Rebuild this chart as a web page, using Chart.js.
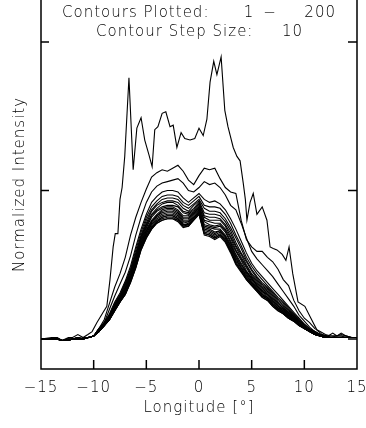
<!DOCTYPE html>
<html>
<head>
<meta charset="utf-8">
<script src="https://cdn.jsdelivr.net/npm/chart.js@4/dist/chart.umd.min.js"></script>
<style>
  html, body { margin: 0; padding: 0; background: #fff; }
  #wrap { width: 366px; height: 428px; }
</style>
</head>
<body>
<div id="wrap"><canvas id="profile-chart" width="366" height="428"></canvas></div>
<script>
// Longitude grid (deg) for contour profiles
const lon = [-15, -14.5, -14, -13.5, -13, -12.5, -12, -11.5, -11, -10.5,
    -10, -9.5, -9, -8.5, -8, -7.5, -7, -6.5, -6, -5.5,
    -5, -4.5, -4, -3.5, -3, -2.5, -2, -1.5, -1, -0.5,
    0, 0.5, 1, 1.5, 2, 2.5, 3, 3.5, 4, 4.5,
    5, 5.5, 6, 6.5, 7, 7.5, 8, 8.5, 9, 9.5,
    10, 10.5, 11, 11.5, 12, 12.5, 13, 13.5, 14, 14.5, 15];

// Contour 1 (read at its own sample points)
const topLon = [-15, -14, -13.5, -13, -12.4, -12, -11.5, -11, -10.55, -10.15,
    -9.7, -9.1, -8.75, -8.45, -8.15, -7.95, -7.7, -7.5, -7.3, -7.05,
    -6.65, -6.25, -5.9, -5.5, -5.15, -4.75, -4.45, -4.2, -3.9, -3.5,
    -3.15, -2.75, -2.45, -2.1, -1.7, -1.35, -0.85, -0.4, 0, 0.4,
    0.75, 1.05, 1.4, 1.7, 2.1, 2.45, 2.75, 3.25, 3.6, 3.9,
    4.2, 4.4, 4.55, 4.85, 5.15, 5.5, 6.0, 6.45, 6.75, 7.05,
    7.4, 7.9, 8.25, 8.55, 8.9, 9.4, 10.05, 10.55, 11.2, 11.7,
    12.25, 12.7, 13.1, 13.5, 13.95, 14.45, 15];
const contour1 = [0, 1, 1, -1, 1, 1, 3, 1, 3, 5,
    11, 18, 22, 40, 62, 71, 71, 94, 102, 123,
    176, 114, 142, 149, 134, 124, 116, 141, 143, 152,
    153, 143, 144, 129, 139, 135, 134, 135, 142, 137,
    148, 173, 187, 178, 190, 154, 143, 129, 123, 120,
    105, 94, 80, 92, 98, 84, 89, 80, 62, 61,
    60, 57, 53, 62, 44, 25, 22, 15, 6, 3,
    2, 4, 2, 4, 2, 1, 1];

// Contours 11 ... 191 on the common grid
const contour11 = [0, 0, 0, 0, -1, 0, 0, 1, 0, 1,
    2, 7, 13, 24, 35, 44, 55, 70, 82, 92,
    101, 109, 112, 114, 113, 115, 117, 113, 107, 104,
    110, 115, 114, 115, 108, 102, 99, 98, 80, 67,
    62, 59, 59, 55, 52, 47, 40, 36, 26, 19,
    14, 11, 7, 5, 3, 2, 2, 3, 2, 1, 1];
const contour21 = [0, 0, 0, 1, -1, 0, 0, 1, 0, 1,
    2, 6, 11, 20, 29, 37, 45, 56, 70, 82,
    92, 99, 103, 105, 106, 107, 108, 105, 100, 99,
    102, 106, 104, 105, 102, 97, 90, 87, 78, 68,
    59, 54, 50, 46, 42, 37, 32, 27, 22, 16,
    12, 8, 5, 3, 2, 2, 2, 2, 1, 1, 1];
const contour31 = [0, 0, 0, 0, -1, 0, 0, 1, 0, 1,
    2, 7, 11, 17, 25, 31, 39, 49, 62, 74,
    84, 92, 96, 99, 100, 100, 99, 95, 92, 95,
    98, 94, 92, 93, 91, 87, 81, 74, 66, 58,
    51, 46, 42, 38, 34, 30, 26, 22, 18, 14,
    10, 7, 5, 3, 2, 1, 2, 2, 2, 1, 1];
const contour41 = [0, 0, 0, 1, -1, 0, 0, 1, 0, 1,
    2, 7, 11, 16, 24, 30, 38, 47, 60, 72,
    82, 89, 93, 96, 97, 97, 96, 92, 90, 93,
    96, 90, 89, 89, 88, 84, 78, 70, 63, 55,
    49, 44, 40, 36, 32, 28, 25, 21, 17, 13,
    10, 7, 5, 3, 2, 1, 1, 1, 1, 1, 1];
const contour51 = [0, 0, 0, 0, -1, -1, 0, 0, 0, 1,
    2, 7, 10, 16, 23, 29, 37, 46, 58, 70,
    80, 87, 91, 94, 95, 95, 94, 90, 88, 91,
    94, 88, 86, 86, 85, 81, 75, 68, 61, 53,
    47, 42, 38, 35, 31, 27, 24, 20, 16, 13,
    9, 6, 4, 3, 2, 1, 1, 1, 1, 1, 1];
const contour61 = [0, 0, 0, 0, -1, -1, 0, 1, 0, 1,
    2, 6, 10, 16, 23, 29, 36, 45, 57, 69,
    78, 86, 90, 92, 93, 93, 92, 88, 86, 90,
    93, 85, 84, 84, 83, 79, 73, 65, 58, 52,
    46, 41, 37, 34, 30, 26, 23, 19, 16, 12,
    9, 6, 4, 3, 2, 1, 1, 1, 1, 1, 1];
const contour71 = [0, 0, 0, 0, -1, -1, 0, 0, 0, 1,
    2, 6, 10, 15, 22, 28, 35, 44, 56, 68,
    77, 84, 88, 91, 92, 92, 90, 86, 85, 88,
    92, 83, 82, 82, 81, 77, 71, 63, 57, 50,
    44, 40, 36, 33, 29, 25, 22, 18, 15, 12,
    9, 6, 4, 3, 2, 1, 1, 1, 1, 1, 1];
const contour81 = [0, 0, 0, 0, -1, -1, 0, 0, 1, 1,
    2, 6, 10, 15, 22, 28, 34, 43, 55, 67,
    76, 83, 87, 89, 90, 90, 89, 85, 84, 87,
    91, 82, 80, 80, 80, 76, 69, 62, 55, 49,
    43, 39, 35, 32, 28, 24, 21, 18, 15, 11,
    8, 6, 4, 2, 1, 1, 1, 1, 1, 1, 1];
const contour91 = [0, 0, 0, 0, -1, -1, 0, 0, 0, 1,
    2, 6, 10, 15, 22, 28, 34, 43, 54, 66,
    75, 82, 86, 88, 89, 89, 87, 83, 83, 86,
    90, 80, 79, 78, 78, 74, 68, 60, 54, 48,
    42, 38, 34, 31, 27, 24, 21, 17, 15, 11,
    8, 6, 4, 2, 1, 1, 1, 1, 1, 1, 1];
const contour101 = [0, 0, 0, 0, -1, -1, 0, 0, 0, 1,
    2, 6, 10, 14, 21, 27, 33, 42, 53, 65,
    74, 80, 84, 87, 88, 88, 86, 82, 82, 85,
    89, 79, 77, 76, 77, 73, 66, 59, 53, 46,
    41, 37, 33, 30, 26, 23, 20, 17, 14, 11,
    8, 6, 4, 2, 1, 1, 1, 1, 1, 1, 1];
const contour111 = [0, 0, 0, 0, -1, -1, 0, 0, 0, 1,
    2, 6, 10, 14, 21, 27, 33, 41, 52, 64,
    73, 79, 83, 86, 87, 87, 85, 81, 81, 85,
    88, 77, 76, 75, 76, 72, 65, 57, 51, 45,
    41, 36, 32, 30, 26, 22, 20, 16, 14, 10,
    8, 6, 4, 2, 1, 1, 1, 1, 1, 1, 1];
const contour121 = [0, 0, 0, 0, -1, -1, 0, 0, 0, 1,
    2, 5, 9, 14, 21, 27, 32, 41, 52, 64,
    72, 79, 83, 85, 86, 86, 84, 80, 80, 84,
    88, 76, 75, 74, 74, 70, 64, 56, 50, 45,
    40, 36, 32, 29, 25, 22, 19, 16, 14, 10,
    8, 5, 3, 2, 1, 1, 1, 1, 1, 1, 1];
const contour131 = [0, 0, 0, 0, -1, -1, 0, 0, 0, 1,
    2, 5, 9, 14, 20, 26, 32, 40, 51, 63,
    71, 78, 82, 84, 85, 85, 83, 79, 79, 83,
    87, 75, 74, 72, 73, 69, 63, 55, 49, 44,
    39, 35, 31, 28, 24, 21, 19, 16, 13, 10,
    8, 5, 3, 2, 1, 1, 1, 1, 1, 1, 1];
const contour141 = [0, 0, 0, 0, -1, -1, 0, 0, 0, 1,
    2, 5, 9, 14, 20, 26, 31, 40, 50, 62,
    71, 77, 81, 83, 84, 84, 82, 78, 79, 82,
    86, 74, 73, 71, 73, 69, 62, 54, 48, 43,
    38, 34, 30, 28, 24, 21, 18, 15, 13, 10,
    7, 5, 3, 2, 1, 1, 1, 1, 1, 1, 1];
const contour151 = [0, 0, 0, 0, -1, -1, 0, 0, 0, 1,
    2, 5, 9, 13, 20, 26, 31, 39, 50, 62,
    70, 76, 80, 82, 83, 83, 81, 77, 78, 82,
    86, 73, 72, 70, 72, 68, 61, 53, 48, 42,
    38, 34, 30, 27, 23, 20, 18, 15, 13, 10,
    7, 5, 3, 2, 1, 1, 1, 1, 1, 1, 1];
const contour161 = [0, 0, 0, 0, -1, -1, 0, 0, 0, 1,
    2, 5, 9, 13, 19, 25, 31, 39, 49, 61,
    69, 75, 79, 82, 83, 83, 81, 77, 77, 81,
    85, 72, 71, 69, 71, 67, 60, 52, 47, 41,
    37, 33, 29, 27, 23, 20, 18, 15, 12, 9,
    7, 5, 3, 2, 1, 1, 1, 1, 1, 1, 1];
const contour171 = [0, 0, 0, 0, -1, -1, 0, 0, 0, 1,
    2, 5, 9, 13, 19, 25, 30, 39, 49, 61,
    69, 75, 79, 81, 82, 82, 80, 76, 77, 81,
    85, 71, 70, 68, 70, 66, 59, 51, 46, 41,
    37, 33, 29, 27, 23, 20, 17, 14, 12, 9,
    7, 5, 3, 2, 1, 1, 1, 1, 1, 1, 1];
const contour181 = [0, 0, 0, 0, -1, -1, 0, 0, 0, 1,
    2, 5, 9, 13, 19, 25, 30, 38, 48, 60,
    68, 74, 78, 80, 81, 81, 80, 76, 76, 80,
    84, 71, 70, 68, 70, 66, 59, 51, 46, 40,
    36, 32, 28, 26, 22, 19, 17, 14, 12, 9,
    7, 5, 3, 2, 1, 1, 1, 1, 1, 1, 1];
const contour191 = [0, 0, 0, 0, -1, -1, 0, 0, 0, 1,
    2, 5, 9, 13, 19, 25, 30, 38, 48, 60,
    68, 74, 78, 80, 81, 81, 79, 75, 76, 80,
    84, 70, 69, 67, 69, 65, 58, 50, 45, 40,
    36, 32, 28, 26, 22, 19, 17, 14, 12, 9,
    7, 5, 3, 2, 1, 1, 1, 1, 1, 1, 1];

const xTicks = [-15, -10, -5, 0, 5, 10, 15];
const yTicks = [0, 100, 200];

const gridContours = [contour11, contour21, contour31, contour41, contour51, contour61,
    contour71, contour81, contour91, contour101, contour111, contour121, contour131,
    contour141, contour151, contour161, contour171, contour181, contour191];

const datasets = [{
    data: topLon.map((x, i) => ({ x: x, y: contour1[i] }))
}];
gridContours.forEach(function (vals) {
    datasets.push({ data: lon.map((x, i) => ({ x: x, y: vals[i] })) });
});

const fontFamily = '"DejaVu Sans", sans-serif';

// Box, inward ticks and header text
const framePlugin = {
    id: 'frame',
    beforeDraw(chart) {
        chart.ctx.letterSpacing = '1px';
    },
    afterDraw(chart) {
        const ctx = chart.ctx;
        const a = chart.chartArea;
        const xs = chart.scales.x, ys = chart.scales.y;
        ctx.save();
        ctx.strokeStyle = '#000';
        ctx.lineWidth = 1.5;
        ctx.beginPath();
        ctx.moveTo(a.left, a.top);
        ctx.lineTo(a.left, a.bottom);
        ctx.lineTo(a.right, a.bottom);
        ctx.lineTo(a.right, a.top);
        xTicks.forEach(function (v) {
            const px = xs.getPixelForValue(v);
            ctx.moveTo(px, a.bottom);
            ctx.lineTo(px, a.bottom - 9);
        });
        yTicks.forEach(function (v) {
            const py = ys.getPixelForValue(v);
            ctx.moveTo(a.left, py);
            ctx.lineTo(a.left + 8, py);
            ctx.moveTo(a.right, py);
            ctx.lineTo(a.right - 9, py);
        });
        ctx.stroke();

        ctx.fillStyle = '#000';
        ctx.font = '300 15px ' + fontFamily;
        ctx.letterSpacing = '1px';
        ctx.textBaseline = 'middle';
        ctx.textAlign = 'left';
        ctx.fillText('Contours Plotted:', a.left + 21, a.top + 13);
        ctx.fillText('Contour Step Size:', a.left + 55, a.top + 32);
        ctx.textAlign = 'center';
        ctx.fillText('1', a.left + 208, a.top + 13);
        ctx.fillText('\u2212', a.left + 229, a.top + 13);
        ctx.textAlign = 'right';
        ctx.fillText('200', a.left + 295, a.top + 13);
        ctx.fillText('10', a.left + 262, a.top + 32);
        ctx.restore();
    }
};

new Chart(document.getElementById('profile-chart'), {
    type: 'line',
    data: { datasets: datasets },
    options: {
        responsive: false,
        animation: false,
        devicePixelRatio: 1,
        layout: { padding: { left: 0, right: 9, top: 0, bottom: 0 } },
        plugins: { legend: { display: false }, tooltip: { enabled: false } },
        elements: {
            point: { radius: 0 },
            line: { borderWidth: 1.1, borderColor: '#000', tension: 0, fill: false }
        },
        scales: {
            x: {
                type: 'linear', min: -15, max: 15,
                grid: { display: false, drawTicks: false },
                border: { display: false },
                afterBuildTicks: function (s) { s.ticks = xTicks.map(v => ({ value: v })); },
                afterFit: function (s) { s.height = 59; s.paddingLeft = 0; s.paddingRight = 0; },
                ticks: {
                    padding: 10, autoSkip: false, maxRotation: 0, color: '#000',
                    font: { family: fontFamily, size: 15, weight: '300' },
                    callback: v => v < 0 ? '\u2212' + Math.abs(v) : String(v)
                },
                title: {
                    display: true, text: 'Longitude [\u00b0]', color: '#000',
                    font: { family: fontFamily, size: 15, weight: '300' },
                    padding: { top: 0, bottom: 11 }
                }
            },
            y: {
                type: 'linear', min: -20.2, max: 228.3,
                grid: { display: false, drawTicks: false },
                border: { display: false },
                ticks: { display: false },
                afterFit: function (s) { s.width = 41; },
                title: {
                    display: true, text: 'Normalized Intensity', color: '#000',
                    font: { family: fontFamily, size: 15, weight: '300' },
                    padding: { top: 11, bottom: 0 }
                }
            }
        }
    },
    plugins: [framePlugin]
});
</script>
</body>
</html>
